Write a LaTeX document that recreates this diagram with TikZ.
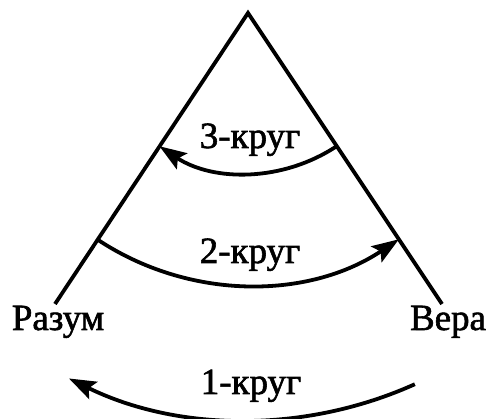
\documentclass[tikz,border=0pt]{standalone}
\usepackage{fontspec}
\setmainfont{Liberation Serif}
\newfontfamily\lblfont{Liberation Serif}[FakeBold=1.6]
\usetikzlibrary{arrows.meta}
\begin{document}
\begin{tikzpicture}[x=1pt,y=1pt,
  leg/.style={line width=3.8pt},
  cyc/.style={line width=3.8pt,-{Stealth[length=27pt,width=19pt,inset=5pt]}},
  lbl/.style={font=\lblfont\fontsize{37}{44}\selectfont,anchor=base,inner sep=0pt}]
\useasboundingbox (0,0) rectangle (489,419);
\coordinate (apex) at (248,406);
\coordinate (L) at (55,115);
\coordinate (R) at (442,115);
\draw[leg] (L) -- (apex) -- (R);
\coordinate (c3s) at ([shift={(-56.3:160)}]apex);
\coordinate (c2s) at ([shift={(-123.6:272)}]apex);
\coordinate (c1s) at ([shift={(-65.8:407)}]apex);
\draw[cyc] (c3s) arc[start angle=-56.3, end angle=-123.6, radius=160pt];
\draw[cyc] (c2s) arc[start angle=-123.6, end angle=-56.3, radius=272pt];
\draw[cyc] (c1s) arc[start angle=-65.8, end angle=-116.1, radius=407pt];
\node[lbl] (t3) at (250,271) {3-круг};
\node[lbl] (t2) at (250,156) {2-круг};
\node[lbl] (t1) at (251,25) {1-круг};
\node[lbl] (raz) at (58,89) {Разум};
\node[lbl] (vera) at (448,89) {Вера};
\end{tikzpicture}
\end{document}
